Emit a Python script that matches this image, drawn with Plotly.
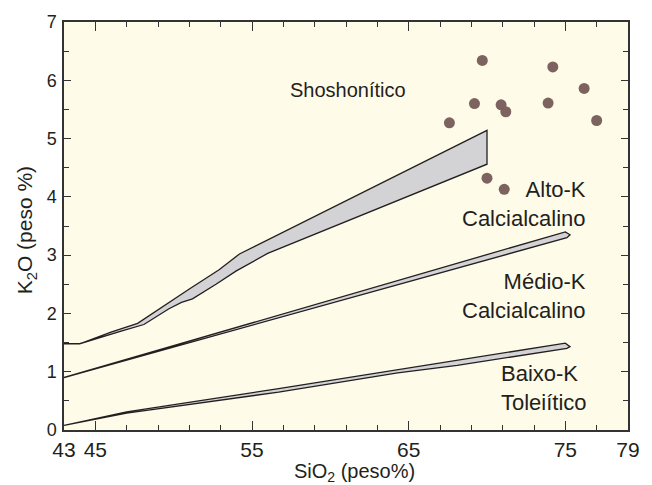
import plotly.graph_objects as go

# Sample analyses (SiO2 vs K2O, wt%)
sio2 = [67.6, 69.7, 74.2, 76.2, 69.2, 70.9, 71.2, 73.9, 77.0, 70.0, 71.1]
k2o = [5.27, 6.34, 6.23, 5.86, 5.60, 5.58, 5.46, 5.61, 5.31, 4.32, 4.13]

# Shoshonitic / High-K boundary band
shosh_top_x = [43, 44, 46, 47.7, 51.0, 52.9, 54.2, 70.0]
shosh_top_y = [1.48, 1.48, 1.68, 1.83, 2.42, 2.75, 3.02, 5.14]
shosh_bot_x = [43, 44, 46.7, 48.1, 49.7, 50.5, 51.2, 52.7, 54.0, 56.0, 57.6, 62.9, 70.0]
shosh_bot_y = [1.48, 1.48, 1.70, 1.81, 2.08, 2.19, 2.25, 2.50, 2.73, 3.03, 3.20, 3.78, 4.56]

# High-K / Medium-K boundary band
highk_top_x = [43, 75.0, 75.3]
highk_top_y = [0.90, 3.40, 3.35]
highk_bot_x = [43, 75.1]
highk_bot_y = [0.90, 3.30]

# Medium-K / Low-K boundary band
lowk_top_x = [43, 47, 56.7, 75.0, 75.3]
lowk_top_y = [0.08, 0.31, 0.71, 1.49, 1.43]
lowk_bot_x = [43, 47, 56.7, 64.3, 68.1, 75.1]
lowk_bot_y = [0.08, 0.29, 0.65, 0.98, 1.11, 1.40]

x_major = [43, 45, 55, 65, 75, 79]
x_minor = [v for v in range(47, 79, 2) if v not in x_major]
y_major = [0, 1, 2, 3, 4, 5, 6, 7]
y_minor = [0.5, 1.5, 2.5, 3.5, 4.5, 5.5, 6.5]

INK = "#231f20"
FONT = "Liberation Sans, Arial, sans-serif"
BAND_FILL = "#d3d3d5"


def band(top_x, top_y, bot_x, bot_y):
    xs = list(top_x) + list(reversed(bot_x))
    ys = list(top_y) + list(reversed(bot_y))
    xs.append(xs[0])
    ys.append(ys[0])
    return go.Scatter(x=xs, y=ys, mode="lines", fill="toself",
                      fillcolor=BAND_FILL, line=dict(color=INK, width=1.3),
                      hoverinfo="skip", showlegend=False)


fig = go.Figure()
fig.add_trace(band(shosh_top_x, shosh_top_y, shosh_bot_x, shosh_bot_y))
fig.add_trace(band(highk_top_x, highk_top_y, highk_bot_x, highk_bot_y))
fig.add_trace(band(lowk_top_x, lowk_top_y, lowk_bot_x, lowk_bot_y))
fig.add_trace(go.Scatter(x=sio2, y=k2o, mode="markers",
                         marker=dict(size=11, color="#7c6360"),
                         showlegend=False))

fig.update_xaxes(range=[43, 79], showgrid=False, zeroline=False,
                 showline=True, linecolor="#333333", linewidth=1.5, mirror="allticks",
                 tickmode="array", tickvals=x_major,
                 ticks="inside", ticklen=9, tickwidth=1.2, tickcolor="#333333",
                 minor=dict(tickmode="array", tickvals=x_minor, ticks="inside",
                            ticklen=5, tickwidth=1.2, tickcolor="#333333"),
                 tickfont=dict(family=FONT, size=21, color=INK),
                 ticklabelstandoff=0)
fig.update_yaxes(range=[0, 7], showgrid=False, zeroline=False,
                 showline=True, linecolor="#333333", linewidth=1.5, mirror="allticks",
                 tickmode="array", tickvals=y_major,
                 ticks="inside", ticklen=7, tickwidth=1.2, tickcolor="#333333",
                 minor=dict(tickmode="array", tickvals=y_minor, ticks="inside",
                            ticklen=5, tickwidth=1.2, tickcolor="#333333"),
                 tickfont=dict(family=FONT, size=18, color=INK),
                 ticklabelstandoff=2)

labels = [
    dict(x=61.1, y=5.83, text="Shoshonítico", xanchor="center", align="center", size=20),
    dict(x=76.45, y=3.88, text="Alto-K<br>Calcialcalino", xanchor="right", align="right", size=22),
    dict(x=76.45, y=2.30, text="Médio-K<br>Calcialcalino", xanchor="right", align="right", size=22),
    dict(x=70.75, y=0.72, text="Baixo-K<br>Toleiítico", xanchor="left", align="left", size=22),
]
for lb in labels:
    fig.add_annotation(x=lb["x"], y=lb["y"], text=lb["text"], showarrow=False,
                       xanchor=lb["xanchor"], yanchor="middle", align=lb["align"],
                       font=dict(family=FONT, size=lb["size"], color=INK))

fig.add_annotation(xref="paper", yref="paper", x=0.515, y=-0.103,
                   text="SiO<sub>2</sub> (peso%)", showarrow=False,
                   xanchor="center", yanchor="middle",
                   font=dict(family=FONT, size=20, color=INK))
fig.add_annotation(xref="paper", yref="paper", x=-0.067, y=0.49,
                   text="K<sub>2</sub>O (peso %)", showarrow=False, textangle=-90,
                   xanchor="center", yanchor="middle",
                   font=dict(family=FONT, size=21, color=INK))

fig.update_layout(width=652, height=485,
                  margin=dict(l=64, r=21, t=15, b=55),
                  plot_bgcolor="#fffbe9", paper_bgcolor="white",
                  showlegend=False)

fig.write_html("out.html")
